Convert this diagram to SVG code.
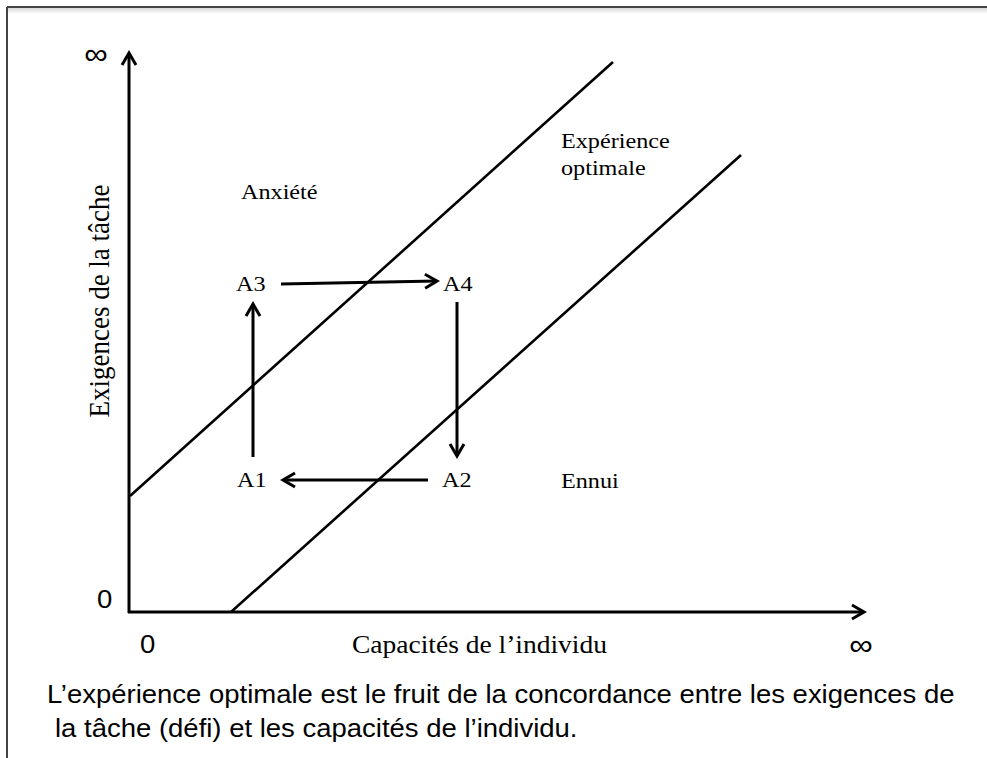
<svg xmlns="http://www.w3.org/2000/svg" width="987" height="758" viewBox="0 0 987 758">
  <defs>
    <linearGradient id="shadow" x1="0" y1="0" x2="0" y2="1">
      <stop offset="0" stop-color="#d8d8d8"/>
      <stop offset="1" stop-color="#ffffff"/>
    </linearGradient>
    <marker id="arrow" markerUnits="userSpaceOnUse" markerWidth="30" markerHeight="30" viewBox="-15 -15 30 30" refX="0" refY="0" orient="auto" overflow="visible">
      <path d="M -12 -7 L 0 0 L -12 7" fill="none" stroke="#000" stroke-width="3" stroke-linejoin="miter"/>
    </marker>
  </defs>
  <style>
    .serif { font-family: "Liberation Serif", "Times New Roman", serif; fill: #000; }
    .sans { font-family: "Liberation Sans", Arial, sans-serif; fill: #000; }
    .lab { font-size: 22px; }
    .ax { stroke: #000; stroke-width: 3; fill: none; }
    .diag { stroke: #000; stroke-width: 2.6; fill: none; }
  </style>
  <rect x="0" y="0" width="987" height="758" fill="#fff"/>
  <g id="frame">
    <rect x="8" y="8" width="979" height="6" fill="url(#shadow)"/>
    <line x1="7" y1="7" x2="987" y2="7" stroke="#444" stroke-width="2"/>
    <line x1="7" y1="7" x2="7" y2="758" stroke="#444" stroke-width="2"/>
  </g>
  <g id="connectors">
    <line id="y-axis" class="ax" x1="129" y1="613" x2="129" y2="53" marker-end="url(#arrow)"/>
    <line id="x-axis" class="ax" x1="128" y1="612" x2="864" y2="612" marker-end="url(#arrow)"/>
    <line id="upper-line" class="diag" x1="130" y1="496" x2="613" y2="62"/>
    <line id="lower-line" class="diag" x1="231" y1="612" x2="741" y2="155"/>
    <line id="a3-a4" class="ax" x1="281" y1="284" x2="437" y2="281" marker-end="url(#arrow)"/>
    <line id="a4-a2" class="ax" x1="457" y1="302" x2="457" y2="456" marker-end="url(#arrow)"/>
    <line id="a2-a1" class="ax" x1="428" y1="480" x2="283" y2="480" marker-end="url(#arrow)"/>
    <line id="a1-a3" class="ax" x1="253" y1="457" x2="253" y2="304" marker-end="url(#arrow)"/>
  </g>
  <g id="node-anxiete"><text class="serif lab" transform="translate(241,199) scale(1.1,1)">Anxiété</text></g>
  <g id="node-experience">
    <text class="serif lab" transform="translate(561,148) scale(1.1,1)">Expérience</text>
    <text class="serif lab" transform="translate(561,175) scale(1.1,1)">optimale</text>
  </g>
  <g id="node-a3"><text class="serif lab" transform="translate(236,291) scale(1.1,1)">A3</text></g>
  <g id="node-a4"><text class="serif lab" transform="translate(443,291) scale(1.1,1)">A4</text></g>
  <g id="node-a1"><text class="serif lab" transform="translate(237,487) scale(1.1,1)">A1</text></g>
  <g id="node-a2"><text class="serif lab" transform="translate(442,487) scale(1.1,1)">A2</text></g>
  <g id="node-ennui"><text class="serif lab" transform="translate(561,488) scale(1.1,1)">Ennui</text></g>
  <g id="axis-labels">
    <text class="serif" font-size="25" transform="translate(352,653) scale(1.1,1)">Capacités de l’individu</text>
    <text class="serif" font-size="27" text-anchor="middle" transform="translate(109,301) scale(1.1,1) rotate(-90)">Exigences de la tâche</text>
    <text class="sans" font-size="25" transform="translate(97,608) scale(1.1,1)">0</text>
    <text class="sans" font-size="25" transform="translate(140,653) scale(1.1,1)">0</text>
    <text class="sans" font-size="30" text-anchor="middle" transform="translate(96,64) scale(1.1,1)">∞</text>
    <text class="sans" font-size="30" text-anchor="middle" transform="translate(861,655) scale(1.1,1)">∞</text>
  </g>
  <g id="caption">
    <text class="sans" font-size="25" transform="translate(47,703) scale(1.1,1)">L’expérience optimale est le fruit de la concordance entre les exigences de</text>
    <text class="sans" font-size="25" transform="translate(55,737) scale(1.1,1)">la tâche (défi) et les capacités de l’individu.</text>
  </g>
</svg>
